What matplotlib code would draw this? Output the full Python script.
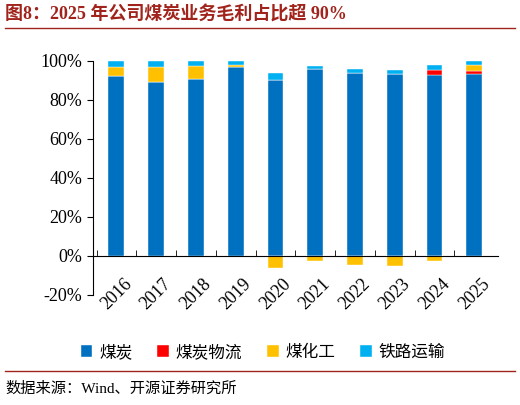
import matplotlib
matplotlib.use("Agg")
import matplotlib.pyplot as plt
import numpy as np
from matplotlib.ticker import FuncFormatter

plt.rcParams['font.family'] = ['Liberation Serif', 'Noto Sans CJK SC']

years = ['2016','2017','2018','2019','2020','2021','2022','2023','2024','2025']
coal = [92.1, 89.0, 90.4, 96.9, 89.9, 95.6, 93.6, 93.1, 92.9, 93.1]
logistics = [0, 0, 0, 0, 0, 0, 0, 0, 2.6, 1.8]
chem = [4.5, 7.9, 6.8, 1.0, -6.1, -2.8, -4.5, -5.0, -2.6, 3.0]
rail = [3.4, 3.1, 2.8, 2.1, 3.8, 1.8, 2.1, 2.3, 2.4, 2.1]
names = ['煤炭', '煤炭物流', '煤化工', '铁路运输']
colors = ['#0070C0', '#FF0000', '#FFC000', '#00B0F0']

fig = plt.figure(figsize=(5.2, 4.05), dpi=100)
ax = fig.add_axes([0.178, 0.272, 0.78, 0.578])
x = np.arange(len(years))
w = 0.4
pos = np.zeros(len(years)); neg = np.zeros(len(years))
for vals, c, n in zip([coal, logistics, chem, rail], colors, names):
    v = np.array(vals, dtype=float)
    bottom = np.where(v >= 0, pos, neg)
    ax.bar(x, v, w, bottom=bottom, color=c, label=n, edgecolor='white', linewidth=0.3)
    pos = pos + np.where(v >= 0, v, 0)
    neg = neg + np.where(v < 0, v, 0)

ax.set_ylim(-20, 100)
ax.set_xlim(-0.6, len(years) - 0.4)
ax.set_yticks(range(-20, 101, 20))
ax.yaxis.set_major_formatter(FuncFormatter(lambda v, p: f'{int(v)}%'))
ax.tick_params(axis='y', labelsize=13, length=4, direction='out')
ax.spines['top'].set_visible(False); ax.spines['right'].set_visible(False)
ax.spines['bottom'].set_position(('data', 0))
ax.set_xticks(x - 0.5, minor=True)
ax.set_xticks(x)
ax.set_xticklabels(years, rotation=45, fontsize=13, ha='center')
ax.tick_params(axis='x', which='major', length=0, pad=14)
ax.tick_params(axis='x', which='minor', length=4, direction='in')
ax.legend(loc='upper center', bbox_to_anchor=(0.42, -0.145), ncol=4, frameon=False,
          prop={'family': ['Noto Sans CJK SC'], 'size': 12}, handlelength=0.7,
          handleheight=0.7, columnspacing=1.5, handletextpad=0.4)

fig.text(0.01, 0.965, '图8：2025 年公司煤炭业务毛利占比超 90%', fontsize=13, fontweight='bold',
         color='#A0241C', va='center', family=['Liberation Serif', 'Noto Sans CJK SC'])
fig.add_artist(plt.Line2D([0.01, 0.99], [0.93, 0.93], color='#A0241C', lw=1))
fig.add_artist(plt.Line2D([0.01, 0.99], [0.085, 0.085], color='#A0241C', lw=1))
fig.text(0.01, 0.04, '数据来源：Wind、开源证券研究所', fontsize=11, va='center',
         family=['Liberation Serif', 'Noto Sans CJK SC'])
fig.savefig('out.png', dpi=100)
